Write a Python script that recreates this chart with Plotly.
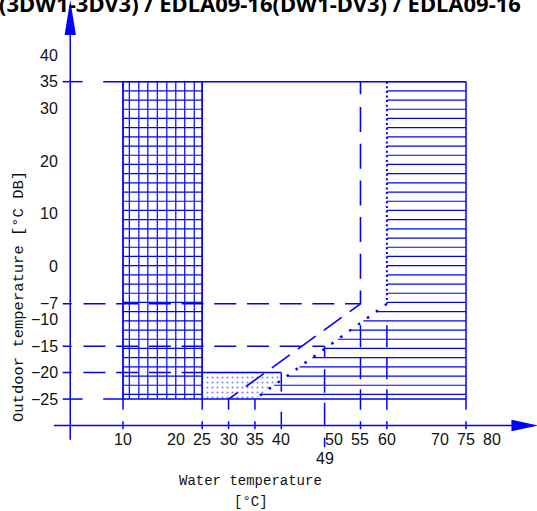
import numpy as np
import plotly.graph_objects as go

# tick labels
x_tick_vals = [10, 20, 25, 30, 35, 40, 50, 55, 60, 70, 75, 80]
y_tick_vals = [40, 35, 30, 20, 10, 0, -7, -10, -15, -20, -25]
y_tick_text = ['40', '35', '30', '20', '10', '0', '−7', '−10', '−15', '−20', '−25']
x_marker_ticks = [10, 25, 30, 35, 55, 60, 75]   # short marks crossing the x axis

# operating envelope
outdoor_max = 35
outdoor_min = -25
water_max = 75
grid_water = [10, 25]                                   # cross-hatched zone
grid_cols = [10, 11.2, 13.0, 14.7, 16.5, 18.3, 20.0, 21.7, 23.5, 25]
dash_limit_x = [55, 55, 30]                             # long dashed limit
dash_limit_y = [35, -7, -25]
dot_limit_x = [60, 60, 35]                              # dotted limit
dot_limit_y = [35, -7, -25]
dotted_zone_x = [25, 35, 40, 40, 25]
dotted_zone_y = [-25, -25, -21.4, -20, -20]
guide_temps = [-7, -15, -20]
guide_ends = [55, 48.2, 25]
mark49_x = 48.2

BLUE = '#0000ff'
fig = go.Figure()


def add_line(x, y, width=1.5, dash=None):
    fig.add_trace(go.Scatter(x=x, y=y, mode='lines',
                             line=dict(color=BLUE, width=width, dash=dash),
                             hoverinfo='skip', showlegend=False))


def pattern(parts):
    return ','.join('%gpx' % p for p in parts)


# hatching
hatch_y = np.arange(outdoor_max, outdoor_min, -1.739)
hx, hy = [], []
for y in hatch_y:
    left = float(np.interp(y, dot_limit_y[::-1], dot_limit_x[::-1]))
    hx += [left, water_max, None]
    hy += [y, y, None]
    hx += [grid_water[0], grid_water[1], None]
    hy += [y, y, None]
for x in grid_cols:
    hx += [x, x, None]
    hy += [outdoor_min, outdoor_max, None]
add_line(hx, hy, width=1.2)

# dotted zone
fig.add_trace(go.Scatter(x=dotted_zone_x, y=dotted_zone_y, mode='lines', fill='toself',
                         fillcolor='rgba(0,0,0,0)', line=dict(width=0),
                         fillpattern=dict(shape='.', fgcolor=BLUE, size=5, solidity=0.13),
                         hoverinfo='skip', showlegend=False))

# envelope edges
ex, ey = [], []
for y in [outdoor_max, outdoor_min]:
    ex += [-1.43, 2.34, None, 6.25, water_max, None]
    ey += [y, y, None, y, y, None]
for x in [grid_water[0], grid_water[1], water_max]:
    ex += [x, x, None]
    ey += [outdoor_max, -27, None]
for x in [30, 35]:
    ex += [x, x, None]
    ey += [outdoor_min, -27, None]
ex += [25, 40, None, 40, 40, None, 40, 40, None]
ey += [-20, -20, None, -20, -23.6, None, -27.4, -30.7, None]
for x in x_marker_ticks:
    ex += [x, x, None]
    ey += [-29.2, -30.7, None]
add_line(ex, ey, width=1.5)

# limit lines
add_line(dash_limit_x, dash_limit_y, width=1.6,
         dash=pattern([12.6, 12.7] + [25, 11.7] * 5 + [26.6] + [10, 22] * 4 + [10, 13]))
add_line(dot_limit_x[:2], dot_limit_y[:2], width=2, dash=pattern([2, 2.6]))
add_line(dot_limit_x[1:], dot_limit_y[1:], width=2.4, dash=pattern([2.5, 8.5]))
for x in [55, 60]:
    add_line([x, x], [-7, -27], width=1.5, dash=pattern([0, 21.5] + [22, 10] * 3))

# guide lines
for t, end in zip(guide_temps, guide_ends):
    add_line([-1.43, end], [t, t], width=1.5, dash=pattern([9, 11.8] + [22, 10.7] * 10))
add_line([mark49_x, mark49_x], [-15, -34.1], width=1.5,
         dash=pattern([11, 12, 23.7, 10, 23.3, 11.7, 10]))

# axes with arrows
add_line([0, 0], [-32.7, 44], width=1.5)
add_line([-3.1, 84], [-30, -30], width=1.5)
for ax, ay in [([-1.07, 1.07, 0, -1.07], [43.8, 43.8, 50.4, 43.8]),
               ([83.6, 83.6, 88.6, 83.6], [-31.07, -28.93, -30, -31.07])]:
    fig.add_trace(go.Scatter(x=ax, y=ay, mode='lines', fill='toself', fillcolor=BLUE,
                             line=dict(width=0, color=BLUE), hoverinfo='skip', showlegend=False))

tick_font = dict(family='Liberation Sans, Arial, sans-serif', size=16, color='#111111')
mono_font = dict(family='Liberation Mono, DejaVu Sans Mono, monospace', size=14, color='#111111')
ann = []
for v, t in zip(y_tick_vals, y_tick_text):
    ann.append(dict(x=-1.9, y=v, text=t, xanchor='right', yanchor='middle', font=tick_font))
for v in x_tick_vals:
    ann.append(dict(x=v, y=-32.7, text=str(v), xanchor='center', yanchor='middle', font=tick_font))
ann.append(dict(x=mark49_x, y=-36.2, text='49', xanchor='center', yanchor='middle', font=tick_font))
ann.append(dict(x=-9.6, y=-5.6, text='Outdoor temperature [°C DB]', textangle=-90,
                xanchor='center', yanchor='middle', font=dict(mono_font, size=15.5)))
ann.append(dict(x=34.2, y=-40.4, text='Water temperature', xanchor='center', yanchor='middle', font=mono_font))
ann.append(dict(x=34.3, y=-44.4, text='[°C]', xanchor='center', yanchor='middle', font=mono_font))
ann.append(dict(xref='paper', yref='paper', x=0, y=1, xshift=-3, yshift=-3, xanchor='left', yanchor='middle',
                text='<b>(3DW1-3DV3) / EDLA09-16(DW1-DV3) / EDLA09-16</b>',
                font=dict(family='Noto Sans, Open Sans, sans-serif', size=22, color='#000000')))
for a in ann:
    a.setdefault('showarrow', False)
    a.setdefault('xref', 'x')
    a.setdefault('yref', 'y')

fig.update_layout(
    width=537, height=511,
    margin=dict(l=0, r=0, t=0, b=0),
    paper_bgcolor='white', plot_bgcolor='white',
    xaxis=dict(range=[-13.31, 88.45], visible=False, fixedrange=True),
    yaxis=dict(range=[-46.16, 50.44], visible=False, fixedrange=True),
    annotations=ann,
    showlegend=False,
)

# page body margin would push the drawing 8px down/right
fig.write_html("out.html", config={'displayModeBar': False},
               post_script="document.body.style.margin = '0';")
